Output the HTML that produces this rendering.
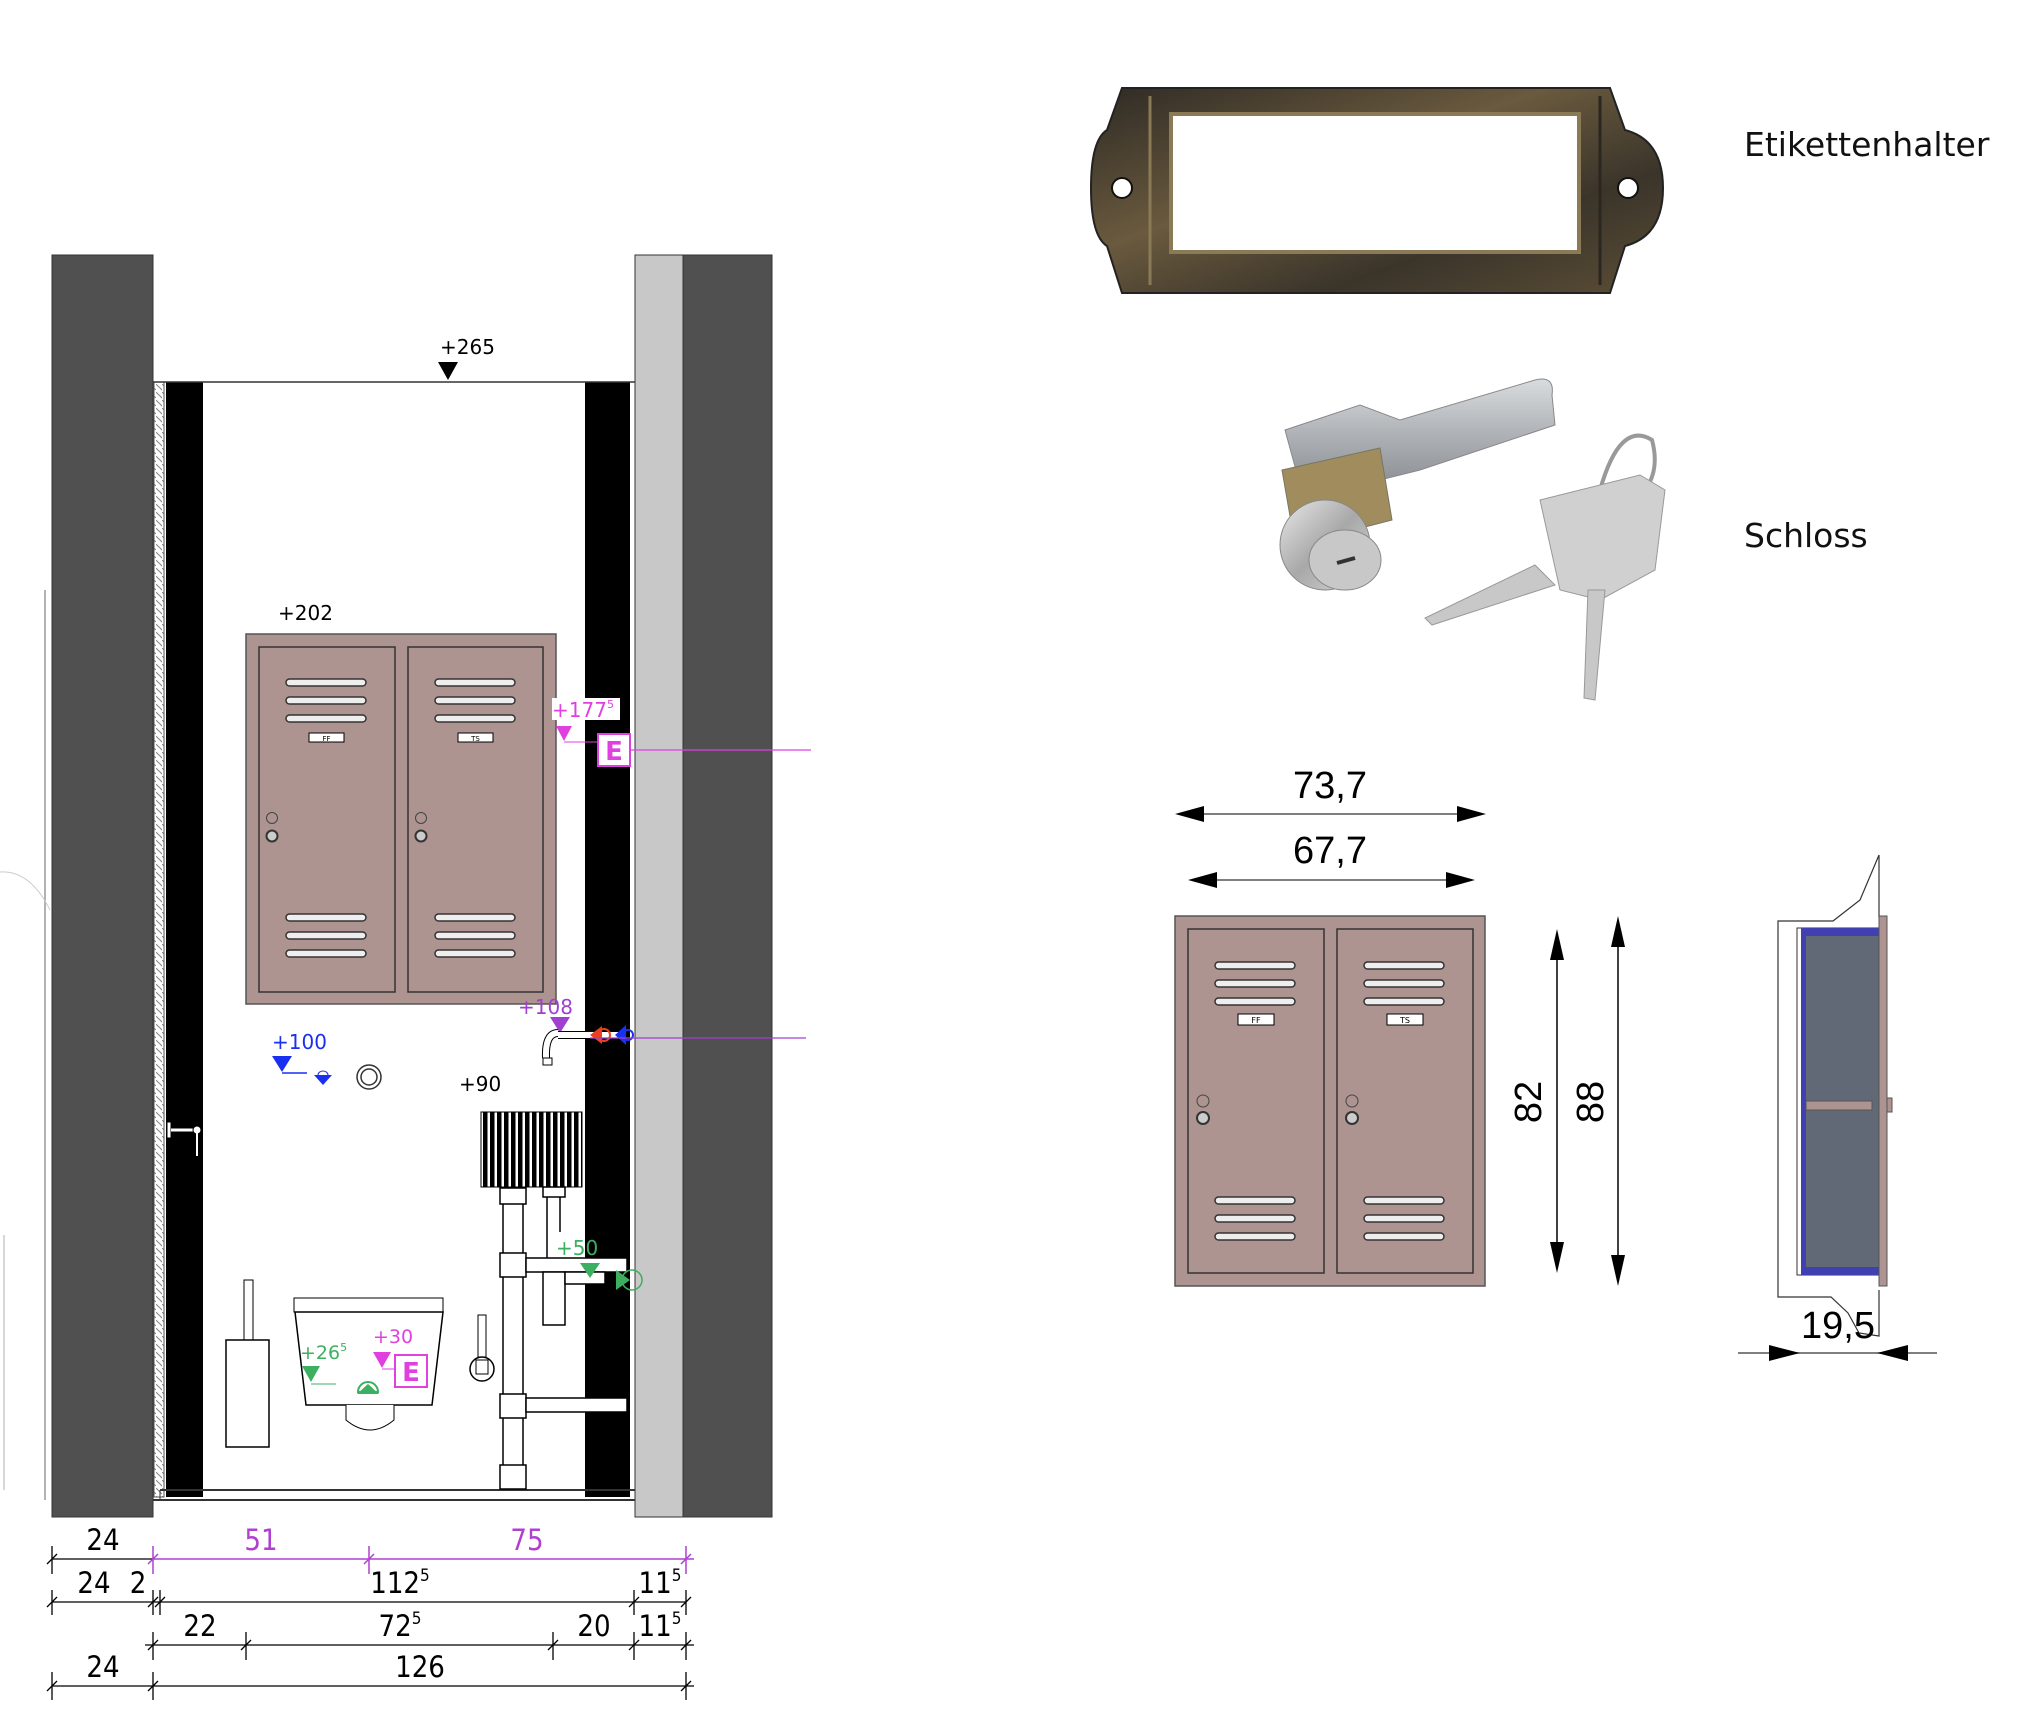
<!DOCTYPE html>
<html><head><meta charset="utf-8"><style>html,body{margin:0;padding:0;background:#fff}svg{display:block}</style></head>
<body>
<svg width="2018" height="1728" viewBox="0 0 2018 1728" xmlns="http://www.w3.org/2000/svg" font-family="'DejaVu Sans','Liberation Sans',sans-serif">
<defs>
<pattern id="hatch" width="6" height="8" patternUnits="userSpaceOnUse"><rect width="6" height="8" fill="#fff"/><path d="M0 0 L6 6" stroke="#888" stroke-width="1"/></pattern>
<pattern id="rad" width="7" height="10" patternUnits="userSpaceOnUse"><rect width="7" height="10" fill="#fff"/><rect width="4.5" height="10" fill="#000"/></pattern>
<linearGradient id="bronze" x1="0" y1="0" x2="1" y2="1"><stop offset="0" stop-color="#2e2a24"/><stop offset="0.4" stop-color="#6a5a3e"/><stop offset="0.7" stop-color="#3a342a"/><stop offset="1" stop-color="#5c4e36"/></linearGradient>
<linearGradient id="metal" x1="0" y1="0" x2="1" y2="1"><stop offset="0" stop-color="#e8e8e8"/><stop offset="0.5" stop-color="#a8a8a8"/><stop offset="1" stop-color="#d8d8d8"/></linearGradient>
<linearGradient id="bar" x1="0" y1="0" x2="0" y2="1"><stop offset="0" stop-color="#d8dcdf"/><stop offset="0.5" stop-color="#b0b4b8"/><stop offset="1" stop-color="#8c9094"/></linearGradient>
</defs>

<!-- ===== LEFT ELEVATION ===== -->
<line x1="45" y1="590" x2="45" y2="1500" stroke="#999" stroke-width="1.5"/>
<line x1="4" y1="1235" x2="4" y2="1490" stroke="#ccc" stroke-width="1.5"/>
<path d="M0 872 Q30 870 50 910" stroke="#ccc" fill="none"/>
<rect x="52" y="255" width="101" height="1262" fill="#505050" stroke="#333"/>
<rect x="154" y="382" width="10" height="1115" fill="url(#hatch)" stroke="#555"/>
<rect x="166" y="382" width="37" height="1115" fill="#000"/>
<rect x="585" y="382" width="45" height="1115" fill="#000"/>
<line x1="153" y1="382" x2="635" y2="382" stroke="#333" stroke-width="1.5"/>
<rect x="635" y="255" width="48" height="1262" fill="#c8c8c8" stroke="#333"/>
<rect x="683" y="255" width="89" height="1262" fill="#505050" stroke="#333"/>
<line x1="160" y1="1490" x2="635" y2="1490" stroke="#333" stroke-width="2"/>
<line x1="153" y1="1500" x2="635" y2="1500" stroke="#333" stroke-width="2"/>
<line x1="160" y1="1490" x2="160" y2="1500" stroke="#333"/>

<text x="440" y="354" font-size="20" fill="#000">+265</text>
<polygon points="438,362 458,362 448,380" fill="#000"/>

<rect x="167" y="1122" width="4" height="16" fill="#fff" stroke="#000"/>
<line x1="171" y1="1130" x2="195" y2="1130" stroke="#fff" stroke-width="3"/>
<circle cx="197" cy="1130" r="4" fill="#fff" stroke="#000"/>
<line x1="197" y1="1132" x2="197" y2="1156" stroke="#fff" stroke-width="2"/>

<text x="278" y="620" font-size="20" fill="#000">+202</text>
<rect x="246" y="634" width="310" height="370" fill="#ae9490" stroke="#555" stroke-width="1.5"/>
<rect x="259" y="647" width="136" height="345" fill="#ae9490" stroke="#333" stroke-width="1.5"/>
<rect x="408" y="647" width="135" height="345" fill="#ae9490" stroke="#333" stroke-width="1.5"/>
<g fill="#eee" stroke="#333" stroke-width="1.5">
<rect x="286" y="679" width="80" height="7" rx="3.5"/><rect x="286" y="697" width="80" height="7" rx="3.5"/><rect x="286" y="715" width="80" height="7" rx="3.5"/>
<rect x="286" y="914" width="80" height="7" rx="3.5"/><rect x="286" y="932" width="80" height="7" rx="3.5"/><rect x="286" y="950" width="80" height="7" rx="3.5"/>
<rect x="435" y="679" width="80" height="7" rx="3.5"/><rect x="435" y="697" width="80" height="7" rx="3.5"/><rect x="435" y="715" width="80" height="7" rx="3.5"/>
<rect x="435" y="914" width="80" height="7" rx="3.5"/><rect x="435" y="932" width="80" height="7" rx="3.5"/><rect x="435" y="950" width="80" height="7" rx="3.5"/>
</g>
<rect x="309" y="733" width="35" height="9" fill="#fff" stroke="#000"/>
<text x="326.5" y="741" font-size="7" text-anchor="middle">FF</text>
<rect x="458" y="733" width="35" height="9" fill="#fff" stroke="#000"/>
<text x="475.5" y="741" font-size="7" text-anchor="middle">TS</text>
<circle cx="272" cy="818" r="5.5" fill="none" stroke="#444"/><circle cx="272" cy="836" r="5.5" fill="#ccc" stroke="#333" stroke-width="2"/>
<circle cx="421" cy="818" r="5.5" fill="none" stroke="#444"/><circle cx="421" cy="836" r="5.5" fill="#ccc" stroke="#333" stroke-width="2"/>

<rect x="552" y="698" width="68" height="22" fill="#fff"/>
<text x="552" y="717" font-size="20" fill="#e040e0">+177<tspan font-size="11" dy="-9">5</tspan></text>
<polygon points="556,726 572,726 564,741" fill="#e040e0"/>
<line x1="564" y1="742" x2="598" y2="742" stroke="#e040e0"/>
<rect x="598" y="734" width="32" height="32" fill="#fff" stroke="#e040e0" stroke-width="2"/>
<text x="614" y="760" font-size="26" font-weight="bold" fill="#e040e0" text-anchor="middle">E</text>
<line x1="630" y1="750" x2="811" y2="750" stroke="#e040e0" stroke-width="1.2"/>

<text x="518" y="1014" font-size="20" fill="#a040d0">+108</text>
<polygon points="550,1017 570,1017 560,1033" fill="#a040d0"/>
<path d="M558 1033 Q545 1033 546 1058" stroke="#000" stroke-width="8" fill="none"/>
<path d="M558 1033 Q545 1033 546 1058" stroke="#fff" stroke-width="6" fill="none"/>
<line x1="558" y1="1035" x2="620" y2="1035" stroke="#000" stroke-width="8"/>
<line x1="558" y1="1035" x2="620" y2="1035" stroke="#fff" stroke-width="6"/>
<rect x="543" y="1058" width="9" height="7" fill="#fff" stroke="#000"/>
<polygon points="590,1035 602,1026 602,1044" fill="#e84020"/><circle cx="604" cy="1035" r="6" fill="none" stroke="#e84020" stroke-width="2"/>
<polygon points="615,1035 626,1025 626,1045" fill="#1a30f0"/><circle cx="628" cy="1035" r="5" fill="none" stroke="#1a30f0" stroke-width="2"/>
<line x1="590" y1="1038" x2="806" y2="1038" stroke="#a040d0" stroke-width="1.2"/>

<text x="272" y="1049" font-size="20" fill="#1a30f0">+100</text>
<polygon points="272,1056 292,1056 282,1072" fill="#1a30f0"/>
<line x1="282" y1="1073" x2="307" y2="1073" stroke="#1a30f0" stroke-width="1.5"/>
<polygon points="314,1075 332,1075 323,1085" fill="#1a30f0"/>
<path d="M318 1075 a5 4 0 0 1 10 0" fill="none" stroke="#1a30f0"/>
<circle cx="369" cy="1077" r="12" fill="none" stroke="#333" stroke-width="1.5"/><circle cx="369" cy="1077" r="8" fill="none" stroke="#333" stroke-width="1.5"/>
<text x="459" y="1091" font-size="20" fill="#000">+90</text>

<rect x="481" y="1112" width="101" height="75" fill="url(#rad)" stroke="#000"/>
<g fill="#fff" stroke="#000" stroke-width="1.5">
<rect x="503" y="1188" width="20" height="300"/>
<rect x="500" y="1188" width="26" height="16"/>
<rect x="500" y="1253" width="26" height="24"/>
<rect x="500" y="1394" width="26" height="24"/>
<rect x="500" y="1465" width="26" height="24"/>
<rect x="526" y="1258" width="101" height="14"/>
<rect x="526" y="1398" width="101" height="14"/>
<rect x="543" y="1187" width="22" height="10"/>
<line x1="547" y1="1197" x2="547" y2="1258"/><line x1="560" y1="1197" x2="560" y2="1232"/>
<rect x="543" y="1272" width="22" height="53"/>
<rect x="565" y="1272" width="40" height="12"/>
</g>
<text x="556" y="1255" font-size="20" fill="#3cb060">+50</text>
<polygon points="580,1263 600,1263 590,1278" fill="#3cb060"/>
<polygon points="616,1270 630,1280 616,1290" fill="#3cb060"/>
<circle cx="632" cy="1280" r="10" fill="none" stroke="#3cb060" stroke-width="1.5"/>

<rect x="244" y="1280" width="9" height="60" fill="#fff" stroke="#000"/>
<rect x="226" y="1340" width="43" height="107" fill="#fff" stroke="#000" stroke-width="1.5"/>
<rect x="294" y="1298" width="149" height="14" fill="#fff" stroke="#000"/>
<path d="M295 1312 L443 1312 L432 1405 L306 1405 Z" fill="#fff" stroke="#000" stroke-width="1.5"/>
<path d="M346 1405 L346 1420 Q370 1440 394 1420 L394 1405" fill="#fff" stroke="#000"/>
<text x="300" y="1359" font-size="19" fill="#3cb060">+26<tspan font-size="11" dy="-8">5</tspan></text>
<polygon points="302,1366 320,1366 311,1382" fill="#3cb060"/>
<line x1="311" y1="1384" x2="336" y2="1384" stroke="#3cb060"/>
<path d="M358 1392 a10 10 0 1 1 20 0 Z" fill="#fff" stroke="#3cb060" stroke-width="2"/>
<polygon points="357,1394 379,1394 368,1384" fill="#3cb060"/>
<text x="373" y="1343" font-size="19" fill="#e040e0">+30</text>
<polygon points="373,1352 391,1352 382,1368" fill="#e040e0"/>
<line x1="382" y1="1369" x2="395" y2="1369" stroke="#e040e0"/>
<rect x="395" y="1355" width="32" height="32" fill="#fff" stroke="#e040e0" stroke-width="2"/>
<text x="411" y="1381" font-size="26" font-weight="bold" fill="#e040e0" text-anchor="middle">E</text>
<rect x="478" y="1315" width="8" height="42" fill="#fff" stroke="#000"/>
<circle cx="482" cy="1369" r="12" fill="none" stroke="#000" stroke-width="1.5"/>
<rect x="476" y="1360" width="12" height="14" fill="#fff" stroke="#000"/>

<!-- ===== DIMENSIONS ===== -->
<g font-size="29" text-anchor="middle" font-family="'DejaVu Sans Condensed','DejaVu Sans',sans-serif">
<g stroke="#000" stroke-width="1.3">
<line x1="52" y1="1559" x2="153" y2="1559"/>
<line x1="52" y1="1602" x2="686" y2="1602"/>
<line x1="145" y1="1645" x2="694" y2="1645"/>
<line x1="52" y1="1686" x2="694" y2="1686"/>
<line x1="52" y1="1546" x2="52" y2="1574"/><line x1="52" y1="1590" x2="52" y2="1615"/><line x1="52" y1="1672" x2="52" y2="1700"/>
<line x1="153" y1="1590" x2="153" y2="1615"/><line x1="160" y1="1590" x2="160" y2="1615"/>
<line x1="153" y1="1632" x2="153" y2="1660"/><line x1="246" y1="1632" x2="246" y2="1660"/><line x1="553" y1="1632" x2="553" y2="1660"/><line x1="634" y1="1632" x2="634" y2="1660"/><line x1="686" y1="1632" x2="686" y2="1660"/>
<line x1="634" y1="1590" x2="634" y2="1615"/><line x1="686" y1="1590" x2="686" y2="1615"/>
<line x1="153" y1="1672" x2="153" y2="1700"/><line x1="686" y1="1672" x2="686" y2="1700"/>
<path d="M47 1564 l10 -10 M47 1607 l10 -10 M148 1607 l10 -10 M155 1607 l10 -10 M629 1607 l10 -10 M681 1607 l10 -10 M148 1650 l10 -10 M241 1650 l10 -10 M548 1650 l10 -10 M629 1650 l10 -10 M681 1650 l10 -10 M47 1691 l10 -10 M148 1691 l10 -10 M681 1691 l10 -10"/>
</g>
<g stroke="#b040d0" stroke-width="1.5">
<line x1="153" y1="1559" x2="694" y2="1559"/>
<line x1="153" y1="1546" x2="153" y2="1574"/><line x1="369" y1="1546" x2="369" y2="1574"/><line x1="686" y1="1546" x2="686" y2="1574"/>
<path d="M148 1564 l10 -10 M364 1564 l10 -10 M681 1564 l10 -10"/>
</g>
<text x="103" y="1550">24</text>
<text x="261" y="1550" fill="#b040d0">51</text>
<text x="527" y="1550" fill="#b040d0">75</text>
<text x="94" y="1593">24</text><text x="138" y="1593">2</text>
<text x="400" y="1593">112<tspan font-size="17" dy="-12">5</tspan></text>
<text x="660" y="1593">11<tspan font-size="17" dy="-12">5</tspan></text>
<text x="200" y="1636">22</text>
<text x="400" y="1636">72<tspan font-size="17" dy="-12">5</tspan></text>
<text x="594" y="1636">20</text>
<text x="660" y="1636">11<tspan font-size="17" dy="-12">5</tspan></text>
<text x="103" y="1677">24</text>
<text x="420" y="1677">126</text>
</g>

<!-- ===== LABEL HOLDER ===== -->
<path d="M1122 88 L1610 88 L1625 130 Q1663 140 1663 188 Q1663 236 1625 246 L1610 293 L1122 293 L1107 246 Q1091 236 1091 188 Q1091 140 1107 130 Z" fill="url(#bronze)" stroke="#222" stroke-width="2"/>
<rect x="1171" y="114" width="408" height="138" fill="#fff" stroke="#8a7a56" stroke-width="4"/>
<line x1="1150" y1="96" x2="1150" y2="285" stroke="#8a7a56" stroke-width="3"/>
<line x1="1600" y1="96" x2="1600" y2="285" stroke="#2a2620" stroke-width="3"/>
<circle cx="1122" cy="188" r="10" fill="#fff" stroke="#111" stroke-width="2"/>
<circle cx="1628" cy="188" r="10" fill="#fff" stroke="#111" stroke-width="2"/>
<text x="1744" y="156" font-size="33" fill="#111">Etikettenhalter</text>

<!-- ===== LOCK ===== -->
<path d="M1285 430 L1360 405 L1400 420 L1535 380 Q1555 375 1552 395 L1555 425 L1420 470 L1380 480 L1300 485 Z" fill="url(#bar)" stroke="#888"/>
<path d="M1282 470 L1380 448 L1392 520 L1295 545 Z" fill="#a08c5c" stroke="#776"/>
<ellipse cx="1325" cy="545" rx="45" ry="45" fill="url(#metal)" stroke="#888"/>
<ellipse cx="1345" cy="560" rx="36" ry="30" fill="#c8c8c8" stroke="#888"/>
<path d="M1337 563 l18 -5" stroke="#333" stroke-width="4"/>
<path d="M1600 490 Q1620 420 1652 440 Q1660 470 1645 490" fill="none" stroke="#999" stroke-width="4"/>
<path d="M1540 500 L1640 475 L1665 490 L1655 570 L1600 600 L1560 590 Z" fill="#d0d0d0" stroke="#999"/>
<path d="M1555 585 L1432 625 L1425 618 L1535 565 Z" fill="#c8c8c8" stroke="#999"/>
<path d="M1605 590 L1595 700 L1584 698 L1588 590 Z" fill="#c8c8c8" stroke="#999"/>
<text x="1744" y="547" font-size="33" fill="#111">Schloss</text>

<!-- ===== FRONT CABINET ===== -->
<g font-family="'Liberation Sans',sans-serif" font-size="38" text-anchor="middle">
<text x="1330" y="798">73,7</text>
<line x1="1195" y1="814" x2="1466" y2="814" stroke="#555" stroke-width="1.5"/>
<polygon points="1175,814 1204,806 1204,822" fill="#000"/><polygon points="1486,814 1457,806 1457,822" fill="#000"/>
<text x="1330" y="863">67,7</text>
<line x1="1208" y1="880" x2="1455" y2="880" stroke="#555" stroke-width="1.5"/>
<polygon points="1188,880 1217,872 1217,888" fill="#000"/><polygon points="1475,880 1446,872 1446,888" fill="#000"/>
<line x1="1557" y1="945" x2="1557" y2="1258" stroke="#000" stroke-width="1.5"/>
<polygon points="1557,929 1550,960 1564,960" fill="#000"/><polygon points="1557,1273 1550,1242 1564,1242" fill="#000"/>
<line x1="1618" y1="930" x2="1618" y2="1272" stroke="#000" stroke-width="1.5"/>
<polygon points="1618,916 1611,947 1625,947" fill="#000"/><polygon points="1618,1286 1611,1255 1625,1255" fill="#000"/>
<text transform="translate(1541,1102) rotate(-90)">82</text>
<text transform="translate(1603,1102) rotate(-90)">88</text>
</g>
<rect x="1175" y="916" width="310" height="370" fill="#ae9490" stroke="#555" stroke-width="1.5"/>
<rect x="1188" y="929" width="136" height="344" fill="#ae9490" stroke="#333" stroke-width="1.5"/>
<rect x="1337" y="929" width="136" height="344" fill="#ae9490" stroke="#333" stroke-width="1.5"/>
<g fill="#eee" stroke="#333" stroke-width="1.5">
<rect x="1215" y="962" width="80" height="7" rx="3.5"/><rect x="1215" y="980" width="80" height="7" rx="3.5"/><rect x="1215" y="998" width="80" height="7" rx="3.5"/>
<rect x="1215" y="1197" width="80" height="7" rx="3.5"/><rect x="1215" y="1215" width="80" height="7" rx="3.5"/><rect x="1215" y="1233" width="80" height="7" rx="3.5"/>
<rect x="1364" y="962" width="80" height="7" rx="3.5"/><rect x="1364" y="980" width="80" height="7" rx="3.5"/><rect x="1364" y="998" width="80" height="7" rx="3.5"/>
<rect x="1364" y="1197" width="80" height="7" rx="3.5"/><rect x="1364" y="1215" width="80" height="7" rx="3.5"/><rect x="1364" y="1233" width="80" height="7" rx="3.5"/>
</g>
<rect x="1238" y="1014" width="36" height="11" fill="#fff" stroke="#000"/><text x="1256" y="1023" font-size="8" text-anchor="middle">FF</text>
<rect x="1387" y="1014" width="36" height="11" fill="#fff" stroke="#000"/><text x="1405" y="1023" font-size="8" text-anchor="middle">TS</text>
<circle cx="1203" cy="1101" r="6" fill="none" stroke="#444"/><circle cx="1203" cy="1118" r="6" fill="#ccc" stroke="#333" stroke-width="2"/>
<circle cx="1352" cy="1101" r="6" fill="none" stroke="#444"/><circle cx="1352" cy="1118" r="6" fill="#ccc" stroke="#333" stroke-width="2"/>

<!-- ===== SIDE VIEW ===== -->
<path d="M1879 855 L1879 918 M1879 855 L1860 900 L1833 921 L1778 921 L1778 1297 L1831 1297 L1848 1313 L1859 1333 L1879 1336 L1879 1290" fill="none" stroke="#333" stroke-width="1.2"/>
<rect x="1797" y="928" width="82" height="347" fill="#fff" stroke="#333"/>
<rect x="1801" y="928" width="78" height="347" fill="#4040b0"/>
<rect x="1806" y="936" width="73" height="331" fill="#616977"/>
<rect x="1806" y="1101" width="66" height="9" fill="#ae9490" stroke="#555"/>
<rect x="1879" y="916" width="8" height="370" fill="#ae9490" stroke="#555"/>
<rect x="1887" y="1098" width="5" height="14" fill="#ae9490" stroke="#555"/>
<text x="1838" y="1338" font-size="38" text-anchor="middle" font-family="'Liberation Sans',sans-serif">19,5</text>
<line x1="1738" y1="1353" x2="1937" y2="1353" stroke="#555" stroke-width="1.5"/>
<polygon points="1800,1353 1769,1345 1769,1361" fill="#000"/>
<polygon points="1877,1353 1908,1345 1908,1361" fill="#000"/>
</svg>
</body></html>
